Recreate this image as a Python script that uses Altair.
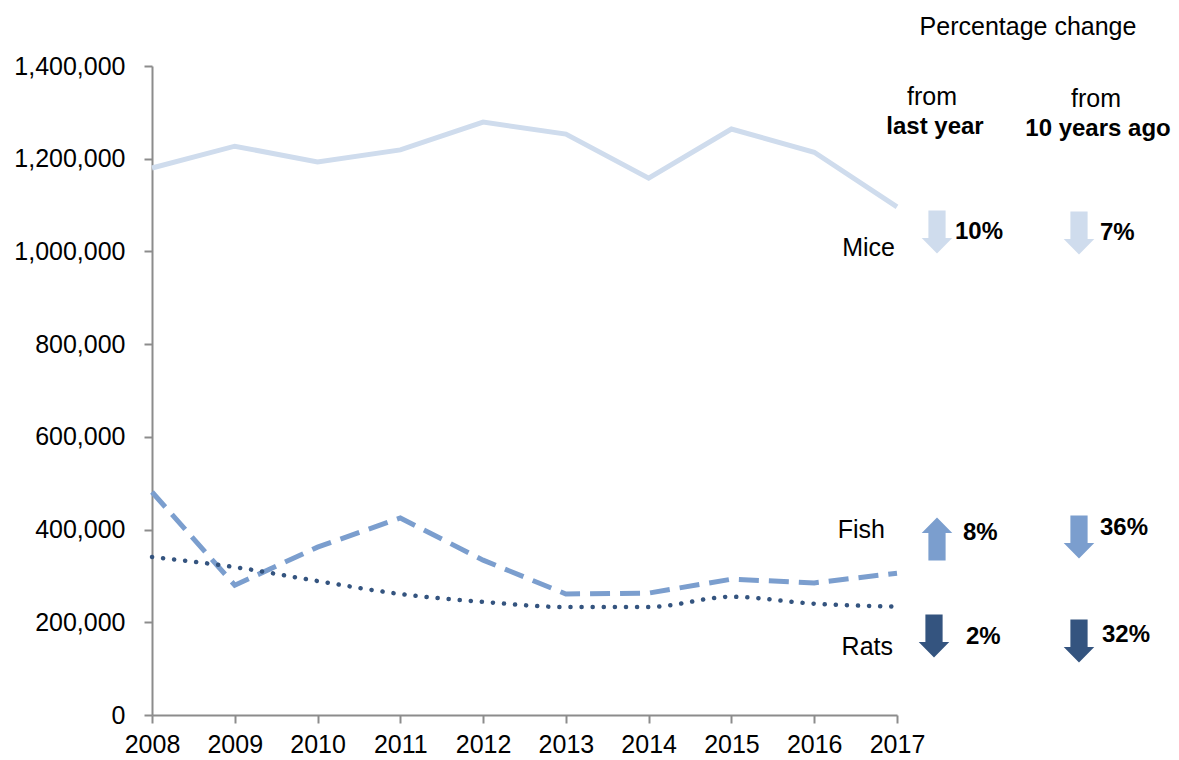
import altair as alt
import pandas as pd

# ---- data ----
years = [2008, 2009, 2010, 2011, 2012, 2013, 2014, 2015, 2016, 2017]
mice = [1180000, 1227000, 1193000, 1219000, 1279000, 1253000, 1158000, 1264000, 1214000, 1096000]
fish = [481000, 280000, 362000, 425000, 334000, 261000, 263000, 293000, 285000, 306000]
rats = [341000, 319000, 289000, 261000, 244000, 233000, 233000, 255000, 240000, 234000]

species = ["Mice", "Fish", "Rats"]
change_last_year = ["10%", "8%", "2%"]
dir_last_year = ["down", "up", "down"]
change_10_years = ["7%", "36%", "32%"]
dir_10_years = ["down", "down", "down"]

y_ticks = [0, 200000, 400000, 600000, 800000, 1000000, 1200000, 1400000]

# ---- styling / layout ----
W, H = 745, 649
FONT = "Liberation Sans"
colors = {"Mice": "#CFDCED", "Fish": "#7B9ECE", "Rats": "#34547F"}
series = {"Mice": mice, "Fish": fish, "Rats": rats}

df = pd.DataFrame(
    [{"year": y, "value": v, "species": s} for s in species for y, v in zip(years, series[s])]
)

xenc = alt.X(
    "year:Q",
    scale=alt.Scale(domain=[2008, 2017], nice=False, zero=False),
    axis=alt.Axis(values=years, format="d", title=None, grid=False, tickSize=8,
                  labelPadding=9, labelAngle=0, labelFlush=False, labelOverlap=False),
)
yenc = alt.Y(
    "value:Q",
    scale=alt.Scale(domain=[0, 1400000], nice=False),
    axis=alt.Axis(values=y_ticks, format=",.0f", title=None, grid=False, tickSize=8,
                  labelPadding=19, labelFlush=False, labelOverlap=False),
)

base = alt.Chart(df)
mice_line = base.transform_filter(alt.datum.species == "Mice").mark_line(
    color=colors["Mice"], strokeWidth=5
).encode(x=xenc, y=yenc)
fish_line = base.transform_filter(alt.datum.species == "Fish").mark_line(
    color=colors["Fish"], strokeWidth=5, strokeDash=[20, 10]
).encode(x=xenc, y=yenc)
rats_line = base.transform_filter(alt.datum.species == "Rats").mark_line(
    color=colors["Rats"], strokeWidth=4.5, strokeDash=[0.1, 11], strokeCap="round",
    interpolate="monotone"
).encode(x=xenc, y=yenc)

one = pd.DataFrame({"a": [0]})


def txt(text, x, y, size=25, bold=False, align="center"):
    return alt.Chart(one).mark_text(
        text=text, font=FONT, fontSize=size, fontWeight="bold" if bold else "normal",
        align=align, baseline="middle", color="#000000"
    ).encode(x=alt.value(x), y=alt.value(y))


DOWN = "M -0.4 -1 L 0.4 -1 L 0.4 0.28 L 0.71 0.28 L 0 1 L -0.71 0.28 L -0.4 0.28 Z"
UP = "M -0.4 1 L 0.4 1 L 0.4 -0.28 L 0.71 -0.28 L 0 -1 L -0.71 -0.28 L -0.4 -0.28 Z"


def arrow(direction, color, x, y, size=1850):
    return alt.Chart(one).mark_point(
        shape=DOWN if direction == "down" else UP, filled=True, size=size,
        color=color, opacity=1, strokeWidth=0
    ).encode(x=alt.value(x), y=alt.value(y))


layers = [mice_line, fish_line, rats_line]

# header
layers += [
    txt("Percentage change", 876, -39),
    txt("from", 780, 31),
    txt("last year", 783, 61, size=24, bold=True),
    txt("from", 944, 33),
    txt("10 years ago", 946, 63, size=24, bold=True),
]

# per-species annotations (pixel layout)
label_pos = {"Mice": (743, 182), "Fish": (733, 464), "Rats": (741, 581)}
arrow_ly_pos = {"Mice": (785, 166), "Fish": (785, 473), "Rats": (782, 570)}
arrow_10_pos = {"Mice": (927, 167), "Fish": (927, 471), "Rats": (927, 575)}
pct_ly_pos = {"Mice": (803, 166), "Fish": (811, 467), "Rats": (814, 571)}
pct_10_pos = {"Mice": (948, 167), "Fish": (948, 462), "Rats": (950, 569)}

for i, s in enumerate(species):
    lx, ly = label_pos[s]
    layers.append(txt(s, lx, ly, align="right"))
    ax, ay = arrow_ly_pos[s]
    layers.append(arrow(dir_last_year[i], colors[s], ax, ay))
    ax, ay = arrow_10_pos[s]
    layers.append(arrow(dir_10_years[i], colors[s], ax, ay))
    px, py = pct_ly_pos[s]
    layers.append(txt(change_last_year[i], px, py, size=24, bold=True, align="left"))
    px, py = pct_10_pos[s]
    layers.append(txt(change_10_years[i], px, py, size=24, bold=True, align="left"))

chart = alt.layer(*layers).properties(
    width=W, height=H,
    autosize=alt.AutoSizeParams(type="none"),
    padding={"left": 144, "top": 58, "right": 274, "bottom": 44},
).configure_view(stroke=None).configure_axis(
    labelFont=FONT, labelFontSize=25, labelColor="#000000",
    domainColor="#8c8c8c", tickColor="#8c8c8c", domainWidth=2, tickWidth=2,
)

chart.save("out.html", embed_options={"renderer": "svg", "actions": False})
